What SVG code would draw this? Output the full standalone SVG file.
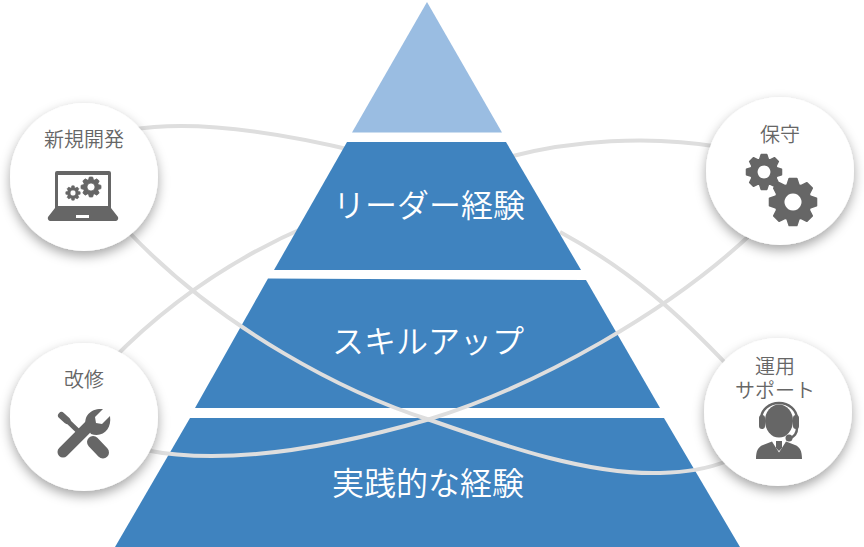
<svg xmlns="http://www.w3.org/2000/svg" width="864" height="547" viewBox="0 0 864 547">
<defs>
<filter id="sh" x="-30%" y="-30%" width="160%" height="170%"><feDropShadow dx="0" dy="5" stdDeviation="6" flood-color="#000" flood-opacity="0.35"/></filter>
<path id="gear" fill="#666" stroke="#666" stroke-width="1.5" stroke-linejoin="round" fill-rule="evenodd" d="M-5-14.500L-3.200-20L3.200-20L5-14.500L6.720-13.790L11.880-16.400L16.400-11.880L13.790-6.720L14.500-5L20-3.200L20 3.200L14.500 5L13.790 6.720L16.400 11.880L11.880 16.400L6.720 13.790L5 14.500L3.200 20L-3.200 20L-5 14.500L-6.720 13.790L-11.880 16.400L-16.400 11.880L-13.790 6.720L-14.500 5L-20 3.200L-20-3.200L-14.500-5L-13.790-6.720L-16.400-11.880L-11.880-16.400L-6.720-13.790zM0-8a8 8 0 1 0 .01 0z"/>
</defs>
<style>
.layer{fill:#3f83bf}
.cv{fill:none;stroke:#dedede;stroke-width:4}
.c{fill:#fff;filter:url(#sh)}
.t{font-family:"Noto Sans CJK JP","Noto Sans",sans-serif;font-weight:350;fill:#666;font-size:20px;text-anchor:middle}
.w{font-family:"Noto Sans CJK JP","Noto Sans",sans-serif;font-weight:350;fill:#fff;font-size:32px;text-anchor:middle}
.i{fill:#666}
.s{fill:none;stroke:#666;stroke-linecap:round}
</style>
<g id="connectors-back">
<path class="cv" d="M130 130C200 118 290 135 360 152M560 232C630 270 680 315 730 368"/>
<path class="cv" d="M110 362C170 300 240 255 310 225M505 158C570 140 650 135 720 147"/>
</g>
<g id="pyramid">
<polygon points="427,2 502,132.500 352,132.500" fill="#9abde2"/>
<polygon class="layer" points="347,142 506,142 581,270 274,270"/>
<polygon class="layer" points="268,278.500 586,280 660,408 195,408"/>
<polygon class="layer" points="190,418 664,418 740,547 115,547"/>
<text class="w" x="429" y="217">リーダー経験</text>
<text class="w" x="428" y="353">スキルアップ</text>
<text class="w" x="428" y="495">実践的な経験</text>
</g>
<g id="connectors-front">
<path class="cv" d="M125 228C220 330 350 395 430 420C510 448 590 475 660 473C685 472 705 470 730 460"/>
<path class="cv" d="M145 450C225 466 330 448 430 419C540 385 670 310 750 235"/>
</g>
<g id="node-shinki">
<circle class="c" cx="84" cy="177" r="74"/>
<text class="t" x="84" y="147">新規開発</text>
<path class="i" fill-rule="evenodd" d="M57 171h52a2 2 0 0 1 2 2v35l7 9a3 3 0 0 1-2 4H50a3 3 0 0 1-2-4l7-9v-35a2 2 0 0 1 2-2zM58 175v31h50v-31zM76 215v3h13v-3z"/>
<use href="#gear" transform="translate(73 193) scale(.36)"/>
<use href="#gear" transform="translate(91 187) scale(.5)"/>
</g>
<g id="node-hoshu">
<circle class="c" cx="780" cy="171" r="74"/>
<text class="t" x="780" y="142">保守</text>
<use href="#gear" transform="translate(764 172) scale(.88)"/>
<use href="#gear" transform="translate(793 202) scale(1.17)"/>
</g>
<g id="node-kaishu">
<circle class="c" cx="84" cy="417" r="74"/>
<text class="t" x="84" y="387">改修</text>
<path class="s" stroke-width="7" d="M61.500 415.500L67 420.500"/>
<path class="s" stroke-width="5" stroke-linecap="butt" d="M66 419.500L78 431"/>
<path class="s" stroke-width="12" d="M93 442L103 452.500"/>
<path class="s" stroke-width="11" d="M63 452L90 425"/>
<path class="i" d="M86 426c-3-10 5-18 17-17l-8 8 1 6 6 1 8-8c2 13-7 22-19 18z"/>
</g>
<g id="node-unyo">
<circle class="c" cx="778" cy="412" r="74"/>
<text class="t" x="775" y="374">運用<tspan x="775" dy="24">サポート</tspan></text>
<ellipse class="i" cx="779" cy="421" rx="14" ry="16.500"/>
<path fill="none" stroke="#666" stroke-width="2.500" d="M761 423v-4a18 16 0 0 1 36 0v9c0 6-3 8-6 10"/>
<rect class="i" x="759" y="415" width="6" height="14" rx="3"/>
<rect class="i" x="793" y="415" width="6" height="14" rx="3"/>
<circle class="i" cx="789" cy="438" r="3.500"/>
<path class="i" d="M756 459c0-8 2-12 7-14l9-3.500 7 11 7-11 9 3.500c5 2 7 6 7 14z"/>
<path class="i" d="M776 441h6v7l-3 3-3-3z"/>
</g>
</svg>
